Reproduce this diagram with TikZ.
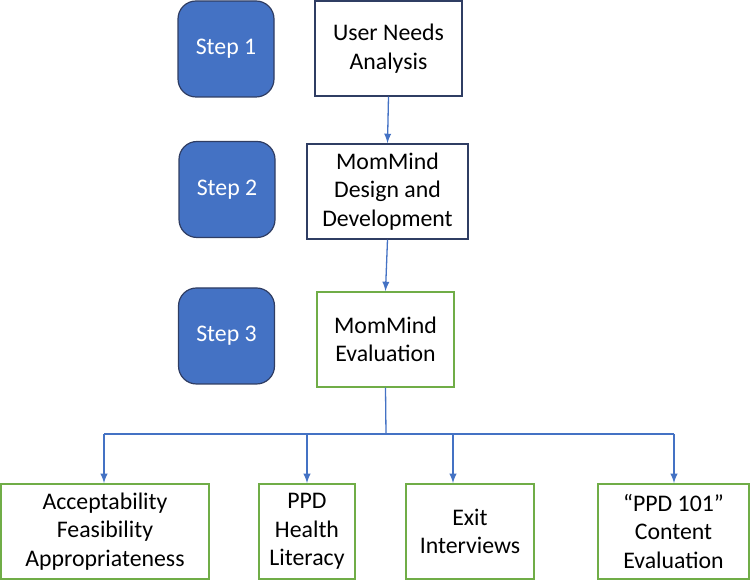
\documentclass[tikz,border=0pt]{standalone}
\usepackage{fontspec}
\setmainfont{Carlito}
\usepackage{tikz}

\definecolor{stepblue}{HTML}{4472C4}
\definecolor{navy}{HTML}{2F3D63}
\definecolor{evalgreen}{HTML}{70AD47}
\definecolor{linkblue}{HTML}{4472C4}

\begin{document}
\begin{tikzpicture}[x=0.5pt,y=-0.5pt,
    every node/.style={font=\fontsize{11.9}{14.2}\selectfont,align=center,inner sep=0pt}]
\tikzstyle{stepbox}=[draw=navy,fill=stepblue,text=white,rounded corners=9pt,line width=0.6pt,minimum width=48pt,minimum height=48pt]
\tikzstyle{taskbox}=[draw=navy,fill=white,line width=0.75pt,minimum height=47.5pt]
\tikzstyle{evalbox}=[draw=evalgreen,fill=white,line width=0.75pt,minimum height=47.5pt]
\tikzstyle{link}=[draw=linkblue,line width=0.65pt,-latex]
\useasboundingbox (0,0) rectangle (750,581);

% steps
\node [stepbox] (step1) at (226,49) {Step 1};
\node [stepbox] (step2) at (227,189.5) {Step 2};
\node [stepbox] (step3) at (226.5,336) {Step 3};

% main column
\node [taskbox,minimum width=73.5pt] (needs) at (388.5,48.5) {User Needs\\Analysis};
\node [taskbox,minimum width=80.5pt] (design) at (387.5,191.5) {MomMind\\Design and\\Development};
\node [evalbox,minimum width=68.5pt] (evaluation) at (385.5,339.5) {MomMind\\Evaluation};

% evaluation parts
\node [evalbox,minimum width=104pt] (accept) at (105,531.5) {Acceptability\\Feasibility\\Appropriateness};
\node [evalbox,minimum width=48pt] (literacy) at (307,531.5) {PPD\\Health\\Literacy};
\node [evalbox,minimum width=64pt] (exit) at (470,531.5) {Exit\\Interviews};
\node [evalbox,minimum width=75.5pt] (content) at (673.5,531.5) {“PPD 101”\\Content\\Evaluation};

\coordinate (bus) at (386,434);
\coordinate (busleft) at (104,434);
\coordinate (busright) at (674,434);
\coordinate (busexit) at (453,434);

\draw [link] (needs.south) -- (design.north);
\draw [link] (design.south) -- (evaluation.north);
\draw [draw=linkblue,line width=0.65pt] (evaluation.south) -- (bus);
\draw [draw=linkblue,line width=0.65pt] (busleft) -- (busright);
\draw [link] (busleft) -- (busleft |- accept.north);
\draw [link] (bus -| literacy.north) -- (literacy.north);
\draw [link] (busexit) -- (busexit |- exit.north);
\draw [link] (busright) -- (busright |- content.north);
\end{tikzpicture}
\end{document}
